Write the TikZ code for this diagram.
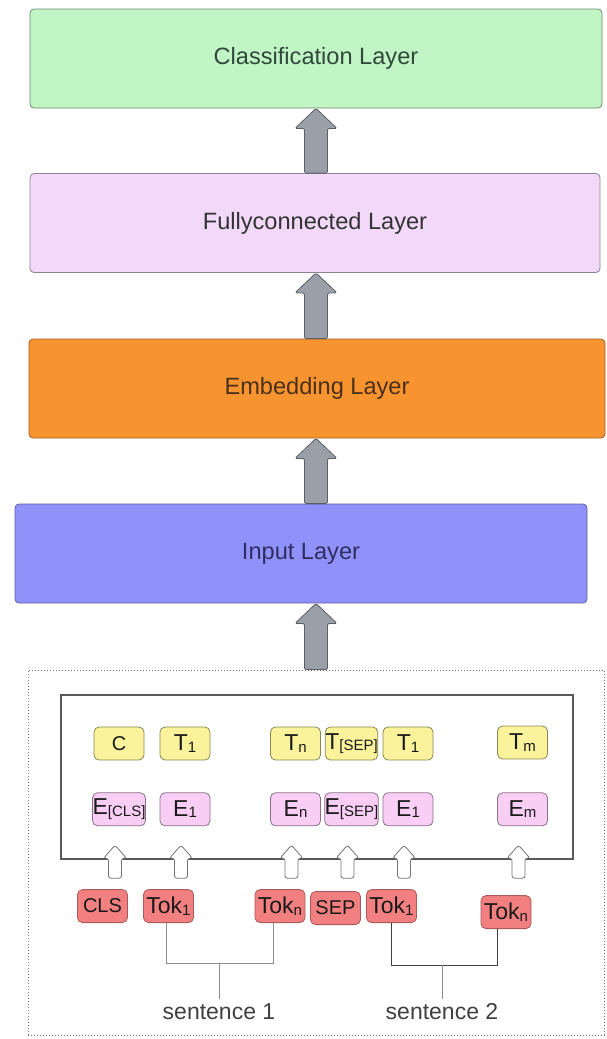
\documentclass[tikz,border=0pt]{standalone}
\usepackage{fontspec}
\setmainfont{Liberation Sans}
\usepackage{tikz}
\usetikzlibrary{positioning, calc}
\definecolor{clsgreen}{HTML}{C2F5C6}
\definecolor{fclilac}{HTML}{F2D9FA}
\definecolor{emborange}{HTML}{F89430}
\definecolor{inpblue}{HTML}{9191FA}
\definecolor{boxyellow}{HTML}{FAF39B}
\definecolor{boxpink}{HTML}{F8CEF5}
\definecolor{boxred}{HTML}{F28080}
\definecolor{arrowgray}{HTML}{9BA0A8}
\definecolor{arrowline}{HTML}{5A5F66}
\definecolor{textgray}{HTML}{333333}
\definecolor{clstext}{HTML}{30493A}
\definecolor{inptext}{HTML}{2E2E62}
\definecolor{embtext}{HTML}{4A3018}
\tikzstyle{layerbox} = [rectangle, rounded corners=4pt, minimum height=99pt, line width=0.8pt, text=textgray, font=\fontsize{23.6}{28}\selectfont]
\tikzstyle{smallbox} = [rectangle, rounded corners=5pt, minimum width=50pt, minimum height=33pt, inner sep=0pt, line width=0.8pt, text=black!90, font=\fontsize{23}{26}\selectfont]
\tikzstyle{ybox} = [smallbox, fill=boxyellow, draw=black!45!boxyellow]
\tikzstyle{pbox} = [smallbox, fill=boxpink, draw=black!45!boxpink]
\tikzstyle{rbox} = [smallbox, fill=boxred, draw=black!30!boxred]
\tikzstyle{fatarrow} = [fill=arrowgray, draw=arrowline, line width=0.8pt, rounded corners=1.5pt]
\tikzstyle{hollow} = [fill=white, draw=black!55, line width=0.8pt, rounded corners=2.5pt]
\tikzstyle{brk} = [draw=black!45, line width=1pt]
\tikzstyle{sentlabel} = [inner sep=5pt, text=black!75, font=\fontsize{23}{27}\selectfont]
\newcommand{\sub}[1]{\raisebox{-1.5pt}{\fontsize{15}{15}\selectfont #1}}
\newcommand{\smalltxt}[1]{{\fontsize{20}{24}\selectfont #1}}
% big grey arrow between two layers
\newcommand{\bigup}[2]{\draw[fatarrow] let \p1=(mid |- #1), \p2=(mid |- #2) in
  (\x1-11.5pt,\y1) -- (\x1-11.5pt,\y2-20pt) -- (\x1-21pt,\y2-20pt) -- (\x1,\y2)
  -- (\x1+21pt,\y2-20pt) -- (\x1+11.5pt,\y2-20pt) -- (\x1+11.5pt,\y1) -- cycle;}
% small white arrow under an embedding box
\newcommand{\inarrow}[1]{\draw[hollow] let \p1=(#1.south) in
  (\x1-10.5pt,\y1-52pt) -- (\x1-10.5pt,\y1-32pt) -- (\x1-15.5pt,\y1-32pt) -- (\x1-4pt,\y1-19pt)
  -- (\x1+7.5pt,\y1-32pt) -- (\x1+2.5pt,\y1-32pt) -- (\x1+2.5pt,\y1-52pt) -- cycle;}

\begin{document}
\begin{tikzpicture}[x=1pt, y=-1pt]
\useasboundingbox (0,0) rectangle (606,1039);
\coordinate (mid) at (316,0);

% layers
\node (cls) [layerbox, fill=clsgreen, draw=black!45!clsgreen, minimum width=572pt, text=clstext] at (316,58.5) {Classification Layer};
\node (fc) [layerbox, fill=fclilac, draw=black!40!fclilac, minimum width=570pt] at (315,223) {Fullyconnected Layer};
\node (emb) [layerbox, fill=emborange, draw=black!35!emborange, minimum width=576pt, text=embtext] at (317,388.5) {Embedding Layer};
\node (inp) [layerbox, fill=inpblue, draw=black!35!inpblue, minimum width=572pt, text=inptext] at (301,553.5) {Input Layer};

% input part
\node (outer) [draw=black!55, dotted, line width=1pt, minimum width=576pt, minimum height=365pt] at (316,852.5) {};
\node (enc) [draw=black!65, line width=1.6pt, minimum width=512pt, minimum height=164pt] at (317,777) {};

\bigup{fc.north}{cls.south}
\bigup{emb.north}{fc.south}
\bigup{inp.north}{emb.south}
\bigup{outer.north}{inp.south}

\node (c) [ybox] at (119,743.5) {\smalltxt{C}};
\node (t1) [ybox] at (185,743.5) {T\sub{1}};
\node (tn) [ybox] at (295.5,743.5) {T\sub{n}};
\node (tsep) [ybox] at (351.5,743.5) {T\sub{[SEP]}};
\node (t1b) [ybox] at (408,743.5) {T\sub{1}};
\node (tm) [ybox] at (522.5,742.5) {T\sub{m}};

\node (ecls) [pbox, below=32pt of c] {E\sub{[CLS]}};
\node (e1) [pbox, below=32pt of t1] {E\sub{1}};
\node (en) [pbox, below=32pt of tn] {E\sub{n}};
\node (esep) [pbox, below=32pt of tsep] {E\sub{[SEP]}};
\node (e1b) [pbox, below=32pt of t1b] {E\sub{1}};
\node (em) [pbox, below=33pt of tm] {E\sub{m}};

\inarrow{ecls}
\inarrow{e1}
\inarrow{en}
\inarrow{esep}
\inarrow{e1b}
\inarrow{em}

\node (tokcls) [rbox, below=63pt of ecls, xshift=-16.5pt] {\smalltxt{CLS}};
\node (tok1) [rbox, below=63pt of e1, xshift=-16.5pt] {Tok\sub{1}};
\node (tokn) [rbox, below=63pt of en, xshift=-15.5pt] {Tok\sub{n}};
\node (toksep) [rbox, below=65pt of esep, xshift=-16pt] {\smalltxt{SEP}};
\node (tok1b) [rbox, below=63pt of e1b, xshift=-16.5pt] {Tok\sub{1}};
\node (toknb) [rbox, below=69pt of em, xshift=-16.5pt] {Tok\sub{n}};

% sentence brackets
\node (s1) [sentlabel] at (219,1012) {sentence 1};
\node (s2) [sentlabel] at (442,1012) {sentence 2};
\coordinate (k1) at (219,963);
\coordinate (k2) at (442,965);
\draw[brk] ($(tok1.south)+(-2,0)$) |- (k1) -| ($(tokn.south)+(-7,0)$);
\draw[brk] (k1) -- (s1);
\draw[brk, draw=black!75] (tok1b.south) |- (k2) -| ($(toknb.south)+(-9,0)$);
\draw[brk] (k2) -- (s2);
\end{tikzpicture}
\end{document}
